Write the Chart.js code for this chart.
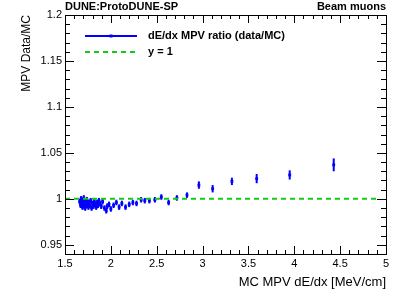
<!DOCTYPE html>
<html>
<head>
<meta charset="utf-8">
<script src="https://cdn.jsdelivr.net/npm/chart.js@4"></script>
<style>
  body { margin: 0; background: #fff; }
  #wrap { width: 407px; height: 292px; }
</style>
</head>
<body>
<div id="wrap"><canvas id="c"></canvas></div>
<script>
// MC MPV dE/dx (MeV/cm) and data/MC ratio with errors
const mcMpv = [1.66, 1.67, 1.675, 1.68, 1.69, 1.695, 1.70, 1.705, 1.71, 1.715,
  1.72, 1.73, 1.735, 1.74, 1.75, 1.755, 1.76, 1.77, 1.78, 1.79,
  1.80, 1.81, 1.82, 1.83, 1.84, 1.85, 1.86, 1.87, 1.88, 1.895,
  1.91, 1.93, 1.95, 1.96, 1.98, 2.00, 2.03, 2.06, 2.09, 2.12,
  2.16, 2.20, 2.24, 2.28, 2.33, 2.37, 2.42, 2.48, 2.55, 2.63,
  2.72, 2.83, 2.96, 3.11, 3.32, 3.59, 3.95, 4.43];
const ratio = [0.997, 0.993, 1.000, 0.995, 0.991, 0.998, 0.994, 1.001, 0.992, 0.996,
  0.990, 0.997, 0.993, 0.999, 0.994, 0.991, 0.996, 0.993, 0.998, 0.990,
  0.995, 0.992, 0.997, 0.994, 0.991, 0.996, 0.993, 0.998, 0.995, 0.992,
  0.997, 0.990, 0.987, 0.992, 0.994, 0.989, 0.993, 0.996, 0.991, 0.995,
  0.991, 0.994, 0.996, 0.995, 0.999, 0.998, 0.998, 0.999, 1.002, 0.996,
  1.001, 1.004, 1.015, 1.011, 1.019, 1.022, 1.026, 1.037];
const ratioErr = [0.003, 0.003, 0.003, 0.003, 0.003, 0.003, 0.003, 0.003, 0.003, 0.003,
  0.003, 0.003, 0.003, 0.003, 0.003, 0.003, 0.003, 0.003, 0.003, 0.003,
  0.003, 0.003, 0.003, 0.003, 0.003, 0.003, 0.003, 0.003, 0.003, 0.003,
  0.003, 0.003, 0.003, 0.003, 0.003, 0.003, 0.003, 0.003, 0.003, 0.003,
  0.003, 0.003, 0.003, 0.003, 0.003, 0.003, 0.003, 0.003, 0.003, 0.003,
  0.003, 0.003, 0.004, 0.004, 0.004, 0.005, 0.005, 0.007];
const refLineX = [1.5, 4.9];
const xTicks = [1.5, 2, 2.5, 3, 3.5, 4, 4.5, 5];
const yTicks = [0.95, 1, 1.05, 1.1, 1.15, 1.2];

const FONT = "'Liberation Sans', Arial, Helvetica, sans-serif";
const fmt = v => String(+Number(v).toFixed(2));

const rootStyle = {
  id: 'rootStyle',
  beforeDatasetsDraw(chart) {
    const ctx = chart.ctx, xs = chart.scales.x, ys = chart.scales.y;
    ctx.save();
    ctx.strokeStyle = '#0000ff';
    ctx.lineWidth = 2;
    mcMpv.forEach((x, i) => {
      const px = xs.getPixelForValue(x);
      ctx.beginPath();
      ctx.moveTo(px, ys.getPixelForValue(ratio[i] - ratioErr[i]));
      ctx.lineTo(px, ys.getPixelForValue(ratio[i] + ratioErr[i]));
      ctx.stroke();
    });
    ctx.restore();
  },
  afterDraw(chart) {
    const ctx = chart.ctx, a = chart.chartArea;
    const xs = chart.scales.x, ys = chart.scales.y;
    ctx.save();
    ctx.strokeStyle = '#000';
    ctx.lineWidth = 1;
    ctx.strokeRect(Math.round(a.left) + 0.5, Math.round(a.top) + 0.5,
      Math.round(a.right - a.left), Math.round(a.bottom - a.top));
    ctx.beginPath();
    // x ticks, bottom and top
    for (let i = 0; i <= 35; i++) {
      const px = Math.round(xs.getPixelForValue(1.5 + i * 0.1)) + 0.5;
      const len = i % 5 === 0 ? 8 : 4;
      ctx.moveTo(px, a.bottom); ctx.lineTo(px, a.bottom - len);
      ctx.moveTo(px, a.top); ctx.lineTo(px, a.top + len);
    }
    // y ticks, left and right
    for (let i = 0; i <= 26; i++) {
      const py = Math.round(ys.getPixelForValue(0.94 + i * 0.01)) + 0.5;
      const len = (i - 1) % 5 === 0 ? 9 : 5;
      ctx.moveTo(a.left, py); ctx.lineTo(a.left + len, py);
      ctx.moveTo(a.right, py); ctx.lineTo(a.right - len, py);
    }
    ctx.stroke();

    // headers
    ctx.fillStyle = '#000';
    ctx.font = 'bold 11px ' + FONT;
    ctx.textBaseline = 'middle';
    ctx.textAlign = 'left';
    ctx.fillText('DUNE:ProtoDUNE-SP', a.left, 7);
    ctx.textAlign = 'right';
    ctx.fillText('Beam muons', a.right, 7);

    // legend
    const ds = chart.data.datasets;
    const lx0 = 85, lx1 = 137, tx = 148;
    ctx.strokeStyle = ds[1].backgroundColor;
    ctx.lineWidth = 2;
    ctx.beginPath(); ctx.moveTo(lx0, 36); ctx.lineTo(lx1, 36); ctx.stroke();
    ctx.fillStyle = ds[1].backgroundColor;
    ctx.fillRect((lx0 + lx1) / 2 - 1.5, 34.5, 3, 3);
    ctx.strokeStyle = ds[0].borderColor;
    ctx.setLineDash(ds[0].borderDash);
    ctx.beginPath(); ctx.moveTo(lx0, 52); ctx.lineTo(lx1, 52); ctx.stroke();
    ctx.setLineDash([]);
    ctx.fillStyle = '#000';
    ctx.textAlign = 'left';
    ctx.fillText(ds[1].label, tx, 36);
    ctx.fillText(ds[0].label, tx, 52);
    ctx.restore();
  }
};

new Chart(document.getElementById('c'), {
  data: {
    datasets: [
      {
        type: 'line',
        label: 'y = 1',
        data: refLineX.map(x => ({ x: x, y: 1 })),
        borderColor: '#11cc11',
        borderWidth: 2,
        borderDash: [5, 4],
        pointRadius: 0,
        order: 0
      },
      {
        type: 'scatter',
        label: 'dE/dx MPV ratio (data/MC)',
        data: mcMpv.map((x, i) => ({ x: x, y: ratio[i] })),
        backgroundColor: '#0000ff',
        borderWidth: 0,
        pointStyle: 'rect',
        pointRadius: 2,
        order: 1
      }
    ]
  },
  options: {
    responsive: true,
    maintainAspectRatio: false,
    animation: false,
    layout: { padding: { left: 0, right: 21, top: 15, bottom: 0 } },
    plugins: { legend: { display: false }, tooltip: { enabled: false } },
    scales: {
      x: {
        type: 'linear',
        min: 1.5, max: 5,
        afterFit(s) { s.height = 38; },
        afterBuildTicks(s) { s.ticks = xTicks.map(v => ({ value: v })); },
        grid: { display: false, drawTicks: false },
        border: { display: false },
        ticks: { color: '#000', padding: 3, maxRotation: 0, autoSkip: false,
          callback: fmt, font: { family: FONT, size: 11 } },
        title: { display: true, text: 'MC MPV dE/dx [MeV/cm]', align: 'end', color: '#000',
          font: { family: FONT, size: 13 }, padding: { top: 0, bottom: 2 } }
      },
      y: {
        type: 'linear',
        min: 0.94, max: 1.2,
        afterFit(s) { s.width = 65; },
        afterBuildTicks(s) { s.ticks = yTicks.map(v => ({ value: v })); },
        grid: { display: false, drawTicks: false },
        border: { display: false },
        ticks: { color: '#000', padding: 3, autoSkip: false,
          callback: fmt, font: { family: FONT, size: 11 } },
        title: { display: true, text: 'MPV Data/MC', align: 'end', color: '#000',
          font: { family: FONT, size: 12 }, padding: { top: 19, bottom: 0 } }
      }
    }
  },
  plugins: [rootStyle]
});
</script>
</body>
</html>
